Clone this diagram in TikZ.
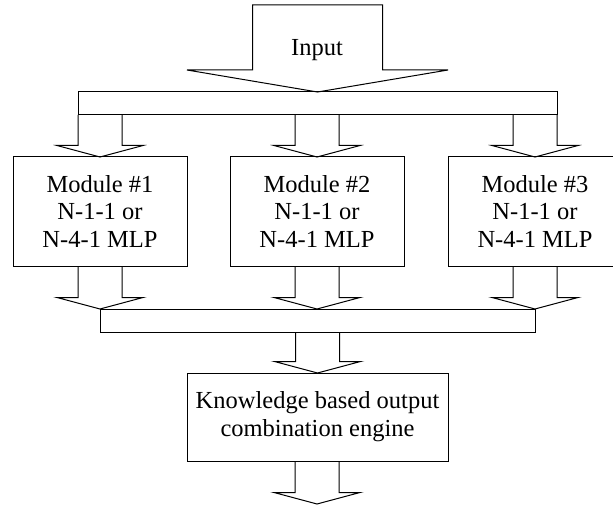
\documentclass[tikz,border=0pt]{standalone}
\usepackage{fontspec}
\setmainfont{Liberation Serif}
\usetikzlibrary{calc}

\begin{document}
\begin{tikzpicture}[
				x=1pt, y=-1pt, line width=1pt,
				every node/.style={font=\fontsize{24.5}{27.8}\selectfont, align=center, inner sep=0pt, outer sep=0pt},
				box/.style={draw, minimum width=174pt, minimum height=109pt},
				bar/.style={draw, minimum height=23pt},
				fat/.style n args={3}{to path={let \p1=(\tikztostart), \p2=(\tikztotarget) in
					(\x2-#1,\y1) -- (\x2-#1,\y2+#3) -- (\x2-#2,\y2+#3) -- (\x2,\y2)
					-- (\x2+#2,\y2+#3) -- (\x2+#1,\y2+#3) -- (\x2+#1,\y1)}},
				link/.style={fat={22pt}{43pt}{11.5pt}}
				]
				\useasboundingbox (0,0) rectangle (613,505);
				\coordinate (top) at (317,5);
				\node[bar, minimum width=479pt] (bar1) at (317.5,103.5) {};
				\node[anchor=base] (inp) at (317,56) {Input};
				\node[box] (mod1) at (100,211.5) {Module \#1\\N-1-1 or\\N-4-1 MLP};
				\node[box] (mod2) at (317,211.5) {Module \#2\\N-1-1 or\\N-4-1 MLP};
				\node[box] (mod3) at (535,211.5) {Module \#3\\N-1-1 or\\N-4-1 MLP};
				\node[bar, minimum width=435pt] (bar2) at (317.5,320.5) {};
				\node[draw, minimum width=261pt, minimum height=88pt] (engine) at (317.5,417)
				{Knowledge based output\\combination engine};
				\coordinate (out) at (317,504);
				% block arrows
				\draw[fat={65pt}{130.5pt}{22pt}] (top) to (bar1.north) -- cycle;
				\foreach \m in {mod1, mod2, mod3} {
					\draw[link] (bar1.south -| \m.north) to (\m.north);
					\draw[link] (\m.south) to (bar2.north -| \m.south);
				}
				\draw[link] (bar2.south -| engine.north) to (engine.north);
				\draw[link] (engine.south) to (out);
			\end{tikzpicture}
\end{document}
